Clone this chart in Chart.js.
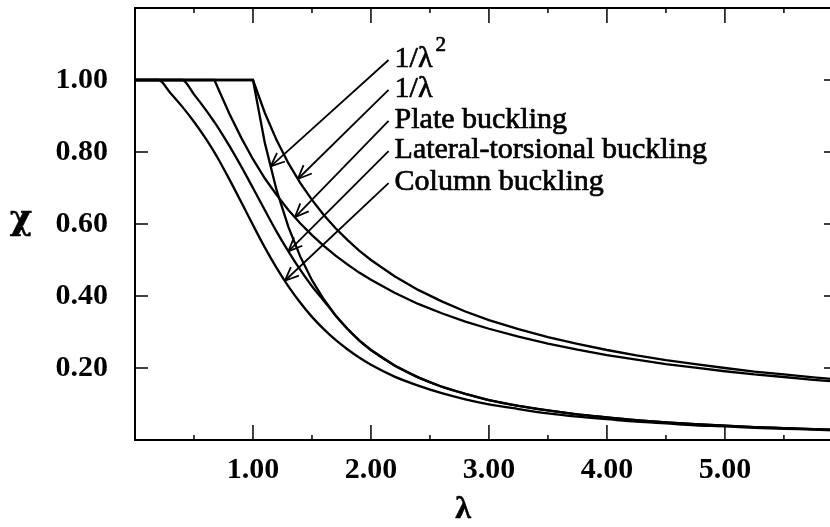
<!DOCTYPE html>
<html>
<head>
<meta charset="utf-8">
<script src="https://cdn.jsdelivr.net/npm/chart.js@4.4.1/dist/chart.umd.min.js"></script>
<style>
  html, body { margin: 0; padding: 0; background: #fff; overflow: hidden; }
  #wrap { width: 850px; height: 527px; }
</style>
</head>
<body>
<div id="wrap"><canvas id="bucklingChart" width="850" height="527"></canvas></div>
<script>
// slenderness values (x) shared by all curves
const lambda = [0, 0.2, 0.3, 0.4, 0.5, 0.6, 0.673, 0.7, 0.8, 0.9,
  1.0, 1.1, 1.2, 1.3, 1.4, 1.5, 1.6, 1.7, 1.8, 1.9, 2.0,
  2.2, 2.4, 2.6, 2.8, 3.0, 3.25, 3.5, 3.75, 4.0, 4.25, 4.5, 4.75, 5.0, 5.25, 5.5, 5.75, 6.0];

// reduction factor chi
const invLambda2 = [1, 1, 1, 1, 1, 1, 1, 1, 1, 1,
  1, 0.826, 0.694, 0.592, 0.510, 0.444, 0.391, 0.346, 0.309, 0.277, 0.250,
  0.207, 0.174, 0.148, 0.128, 0.111, 0.095, 0.082, 0.071, 0.063, 0.055, 0.049, 0.044, 0.040, 0.036, 0.033, 0.030, 0.028];
const invLambda = [1, 1, 1, 1, 1, 1, 1, 1, 1, 1,
  1, 0.909, 0.833, 0.769, 0.714, 0.667, 0.625, 0.588, 0.556, 0.526, 0.500,
  0.455, 0.417, 0.385, 0.357, 0.333, 0.308, 0.286, 0.267, 0.250, 0.235, 0.222, 0.211, 0.200, 0.190, 0.182, 0.174, 0.167];
const plateBuckling = [1, 1, 1, 1, 1, 1, 1, 0.980, 0.906, 0.840,
  0.780, 0.727, 0.681, 0.639, 0.602, 0.569, 0.539, 0.512, 0.488, 0.465, 0.445,
  0.409, 0.378, 0.352, 0.329, 0.309, 0.287, 0.268, 0.251, 0.236, 0.223, 0.211, 0.201, 0.191, 0.182, 0.175, 0.167, 0.161];
const lateralTorsional = [1, 1, 1, 1, 0.960, 0.917, 0.883, 0.870, 0.817, 0.760,
  0.700, 0.639, 0.579, 0.524, 0.473, 0.427, 0.387, 0.346, 0.309, 0.277, 0.250,
  0.207, 0.174, 0.148, 0.128, 0.111, 0.095, 0.082, 0.071, 0.063, 0.055, 0.049, 0.044, 0.040, 0.036, 0.033, 0.030, 0.028];
const columnBuckling = [1, 1, 0.964, 0.926, 0.884, 0.837, 0.799, 0.784, 0.724, 0.661,
  0.597, 0.535, 0.478, 0.427, 0.382, 0.342, 0.308, 0.278, 0.252, 0.229, 0.209,
  0.176, 0.151, 0.130, 0.113, 0.099, 0.086, 0.074, 0.065, 0.058, 0.051, 0.046, 0.041, 0.038, 0.034, 0.031, 0.029, 0.026];

const xMajorTicks = [1, 2, 3, 4, 5];
const xMinorTicks = [0.5, 1.5, 2.5, 3.5, 4.5, 5.5];
const yMajorTicks = [0.2, 0.4, 0.6, 0.8, 1.0];

// labels with arrows: text, curve pointed at, lambda where the arrow hits
const curveLabels = ["1/λ", "1/λ", "Plate buckling", "Lateral-torsional buckling", "Column buckling"];
const arrowCurves = [invLambda2, invLambda, plateBuckling, lateralTorsional, columnBuckling];
const arrowLambda = [1.15, 1.38, 1.355, 1.3, 1.27];
const labelChi = [1.036, 0.953, 0.867, 0.783, 0.694];
const labelLambda = 2.2;

const serif = "'Liberation Serif', 'Times New Roman', serif";

function chiAt(series, l) {
  for (let i = 1; i < lambda.length; i++) {
    if (l <= lambda[i]) {
      const t = (l - lambda[i - 1]) / (lambda[i] - lambda[i - 1]);
      return series[i - 1] + t * (series[i] - series[i - 1]);
    }
  }
  return series[series.length - 1];
}

const toPoints = series => lambda.map((l, i) => ({ x: l, y: series[i] }));

const curve = (series, smooth) => ({
  data: toPoints(series),
  showLine: true,
  borderColor: "#000",
  borderWidth: 2.3,
  pointRadius: 0,
  tension: 0,
  cubicInterpolationMode: smooth ? "monotone" : "default",
  fill: false
});

const frameAndNotes = {
  id: "frameAndNotes",
  afterDraw(chart) {
    const { ctx, chartArea: a, scales: { x, y } } = chart;
    const line = (x1, y1, x2, y2) => { ctx.beginPath(); ctx.moveTo(x1, y1); ctx.lineTo(x2, y2); ctx.stroke(); };
    // slightly heavier text, like the scanned original
    const text = (t, px, py) => { ctx.fillText(t, px, py); ctx.strokeText(t, px, py); };
    ctx.save();
    ctx.strokeStyle = "#000";
    ctx.fillStyle = "#000";

    // box
    ctx.lineWidth = 2;
    ctx.strokeRect(a.left, a.top, a.right - a.left, a.bottom - a.top);

    // inward ticks
    ctx.lineWidth = 1.5;
    xMajorTicks.forEach(v => {
      const px = x.getPixelForValue(v);
      line(px, a.bottom, px, a.bottom - 15);
      line(px, a.top, px, a.top + 15);
    });
    xMinorTicks.forEach(v => {
      const px = x.getPixelForValue(v);
      line(px, a.bottom, px, a.bottom - 5);
      line(px, a.top, px, a.top + 5);
    });
    yMajorTicks.forEach(v => {
      const py = y.getPixelForValue(v);
      line(a.left, py, a.left + 13, py);
      line(a.right, py, a.right - 13, py);
    });

    // arrows and labels
    ctx.textAlign = "left";
    ctx.textBaseline = "alphabetic";
    curveLabels.forEach((txt, i) => {
      const lx = x.getPixelForValue(labelLambda);
      const ly = y.getPixelForValue(labelChi[i]);
      const tipX = x.getPixelForValue(arrowLambda[i]);
      const tipY = y.getPixelForValue(chiAt(arrowCurves[i], arrowLambda[i]));
      const tailX = lx - 6, tailY = ly - 7;
      ctx.lineWidth = 1.8;
      line(tailX, tailY, tipX, tipY);
      const ang = Math.atan2(tailY - tipY, tailX - tipX);
      [0.4, -0.4].forEach(d => {
        line(tipX, tipY, tipX + 15 * Math.cos(ang + d), tipY + 15 * Math.sin(ang + d));
      });
      ctx.lineWidth = 0.7;
      ctx.font = "30px " + serif;
      text(txt, lx, ly);
      if (i === 0) {
        const w = ctx.measureText(txt).width;
        ctx.font = "21px " + serif;
        text("2", lx + w + 3, ly - 16);
      }
    });

    // axis titles
    ctx.textAlign = "center";
    ctx.lineWidth = 0.5;
    ctx.font = "bold 34px 'DejaVu Serif', serif";
    text("χ", 21, 229);
    ctx.font = "bold 32px " + serif;
    text("λ", 463, 518);
    ctx.restore();
  }
};

new Chart(document.getElementById("bucklingChart"), {
  type: "scatter",
  data: {
    datasets: [
      curve(invLambda2, false),
      curve(invLambda, false),
      curve(plateBuckling, false),
      curve(lateralTorsional, true),
      curve(columnBuckling, true)
    ]
  },
  options: {
    responsive: false,
    animation: false,
    layout: { padding: { left: 0, top: 8, right: 13, bottom: 0 } },
    plugins: { legend: { display: false }, tooltip: { enabled: false } },
    scales: {
      x: {
        type: "linear",
        min: 0,
        max: 5.95,
        grid: { display: false, drawTicks: false },
        border: { display: false },
        ticks: {
          stepSize: 1,
          autoSkip: false,
          maxRotation: 0,
          padding: 12,
          color: "#000",
          font: { family: serif, size: 30, weight: "bold" },
          callback: v => xMajorTicks.includes(v) ? v.toFixed(2) : ""
        },
        afterFit: s => { s.height = 87; s.paddingLeft = 0; s.paddingRight = 0; }
      },
      y: {
        type: "linear",
        min: 0,
        max: 1.2,
        grid: { display: false, drawTicks: false },
        border: { display: false },
        ticks: {
          stepSize: 0.2,
          autoSkip: false,
          padding: 27,
          color: "#000",
          font: { family: serif, size: 30, weight: "bold" },
          callback: v => yMajorTicks.some(t => Math.abs(t - v) < 1e-6) ? v.toFixed(2) : ""
        },
        afterFit: s => { s.width = 135; s.paddingTop = 0; s.paddingBottom = 0; }
      }
    }
  },
  plugins: [frameAndNotes]
});
</script>
</body>
</html>
